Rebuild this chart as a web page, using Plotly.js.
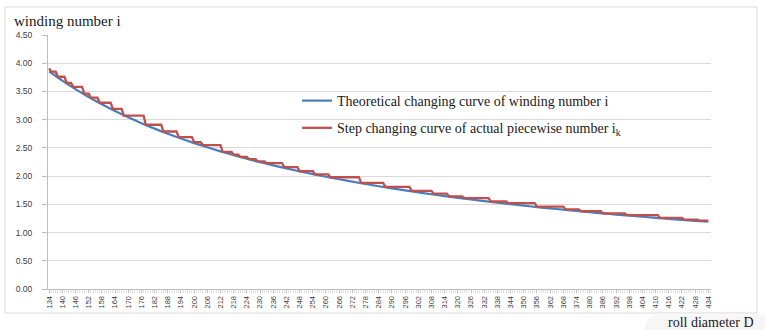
<!DOCTYPE html>
<html>
<head>
<meta charset="utf-8">
<script src="https://cdn.plot.ly/plotly-3.0.1.min.js"></script>
<style>html,body{margin:0;padding:0;background:#fff;}#chart{width:765px;height:330px;}</style>
</head>
<body>
<div id="chart"></div>
<script>
// Theoretical winding number i, read at the labelled roll diameters
var blueD = [134,140,146,152,158,164,170,176,182,188,194,200,206,212,218,224,230,236,242,248,254,260,266,272,278,284,290,296,302,308,314,320,326,332,338,344,350,356,362,368,374,380,386,392,398,404,410,416,422,428,434];
var blueI = [3.858,3.693,3.541,3.401,3.272,3.152,3.041,2.938,2.841,2.750,2.665,2.585,2.510,2.439,2.372,2.308,2.248,2.191,2.136,2.085,2.035,1.988,1.944,1.901,1.860,1.820,1.783,1.747,1.712,1.679,1.646,1.616,1.586,1.557,1.530,1.503,1.477,1.452,1.428,1.405,1.382,1.361,1.339,1.319,1.299,1.280,1.261,1.243,1.225,1.208,1.191];

// Step curve of actual piecewise number ik: each flat piece (start D, end D, level)
var stepStart = [134,135,138,142,145,150,153,157,163,168,178,186,193,200,204,213,218,221,225,229,233,241,248,255,262,276,287,299,309,316,323,335,343,356,369,376,386,397,412,423,430];
var stepEnd   = [134,137,141,144,149,152,156,162,167,177,185,192,199,203,212,217,220,224,228,232,240,247,254,261,275,286,298,308,315,322,334,342,355,368,375,385,396,411,422,429,434];
var stepLevel = [3.91,3.85,3.76,3.65,3.58,3.46,3.39,3.30,3.19,3.07,2.91,2.79,2.69,2.60,2.55,2.43,2.38,2.34,2.30,2.26,2.23,2.16,2.09,2.03,1.98,1.88,1.81,1.74,1.69,1.64,1.61,1.55,1.52,1.46,1.41,1.38,1.34,1.31,1.26,1.23,1.21];

var yTicks = [0,0.5,1,1.5,2,2.5,3,3.5,4,4.5];

var stepX = [], stepY = [];
for (var k = 0; k < stepStart.length; k++) {
  stepX.push(stepStart[k]); stepY.push(stepLevel[k]);
  if (stepEnd[k] !== stepStart[k]) { stepX.push(stepEnd[k]); stepY.push(stepLevel[k]); }
}

// pixel helpers for decorations outside the plot area
var L = 48, R = 711, T = 35, B = 289;
function px(x){ return (x - L) / (R - L); }
function py(y){ return (B - y) / (B - T); }

var serif = 'Liberation Serif, Times New Roman, serif';

var traces = [
  {x: blueD, y: blueI, type: 'scatter', mode: 'lines', line: {color: '#4a7ebb', width: 2.2, shape: 'spline', smoothing: 1},
   name: 'Theoretical changing curve of winding number i', legendgroup: 'a'},
  {x: stepX, y: stepY, type: 'scatter', mode: 'lines', line: {color: '#c0504d', width: 2.3},
   name: 'Step changing curve of actual piecewise number i<sub>k</sub>', legendgroup: 'b'}
];

var layout = {
  width: 765, height: 330,
  margin: {l: L, r: 765 - R, t: T, b: 330 - B, pad: 0},
  paper_bgcolor: '#fff', plot_bgcolor: '#fff',
  showlegend: true,
  legend: {x: px(297), y: py(85), xanchor: 'left', yanchor: 'top', bgcolor: 'rgba(0,0,0,0)', borderwidth: 0,
           font: {family: serif, size: 14, color: '#1a1a1a'}, traceorder: 'grouped', tracegroupgap: 6},
  title: {text: 'winding number i', x: 14/765, xanchor: 'left', xref: 'container', y: 1 - 21/330, yanchor: 'middle', yref: 'container',
          font: {family: serif, size: 15, color: '#1a1a1a'}},
  xaxis: {range: [133.5, 435.2], tickmode: 'linear', tick0: 134, dtick: 6, tickangle: -90,
          tickfont: {family: 'Liberation Sans, Arial, sans-serif', size: 7.5, color: '#404040'},
          ticks: 'outside', ticklen: 3, tickcolor: '#bfbfbf', tickwidth: 1,
          minor: {dtick: 1, ticks: 'outside', ticklen: 3, tickcolor: '#cfcfcf', tickwidth: 0.6, showgrid: false},
          showline: true, linecolor: '#bfbfbf', linewidth: 1, showgrid: false, zeroline: false, fixedrange: true},
  yaxis: {range: [0, 4.5], tickmode: 'array', tickvals: yTicks, tickformat: '.2f',
          tickfont: {family: 'Liberation Sans, Arial, sans-serif', size: 8.5, color: '#404040'},
          ticks: 'outside', ticklen: 5, tickcolor: '#bfbfbf', ticklabelstandoff: 8,
          showline: true, linecolor: '#bfbfbf', linewidth: 1, showgrid: true, gridcolor: '#d9d9d9', gridwidth: 1, zeroline: false, fixedrange: true},
  shapes: [
    {type: 'rect', xref: 'paper', yref: 'paper', x0: px(5), x1: px(757), y0: py(313), y1: py(7), line: {color: '#d9d9d9', width: 1}, layer: 'below'},
    {type: 'path', xref: 'paper', yref: 'paper',
     path: 'M' + px(645) + ',' + py(330) + ' Q' + px(645) + ',' + py(315) + ' ' + px(660) + ',' + py(315) + ' L' + px(765) + ',' + py(315) + ' L' + px(765) + ',' + py(330) + ' Z',
     fillcolor: '#f6f6f6', line: {width: 0}, layer: 'below'}
  ],
  annotations: [
    {text: 'roll diameter D', xref: 'paper', yref: 'paper', x: px(666), y: py(322), xanchor: 'left', yanchor: 'middle', showarrow: false,
     font: {family: serif, size: 14, color: '#1a1a1a'}}
  ]
};

Plotly.newPlot('chart', traces, layout, {displayModeBar: false, staticPlot: true});
</script>
</body>
</html>
